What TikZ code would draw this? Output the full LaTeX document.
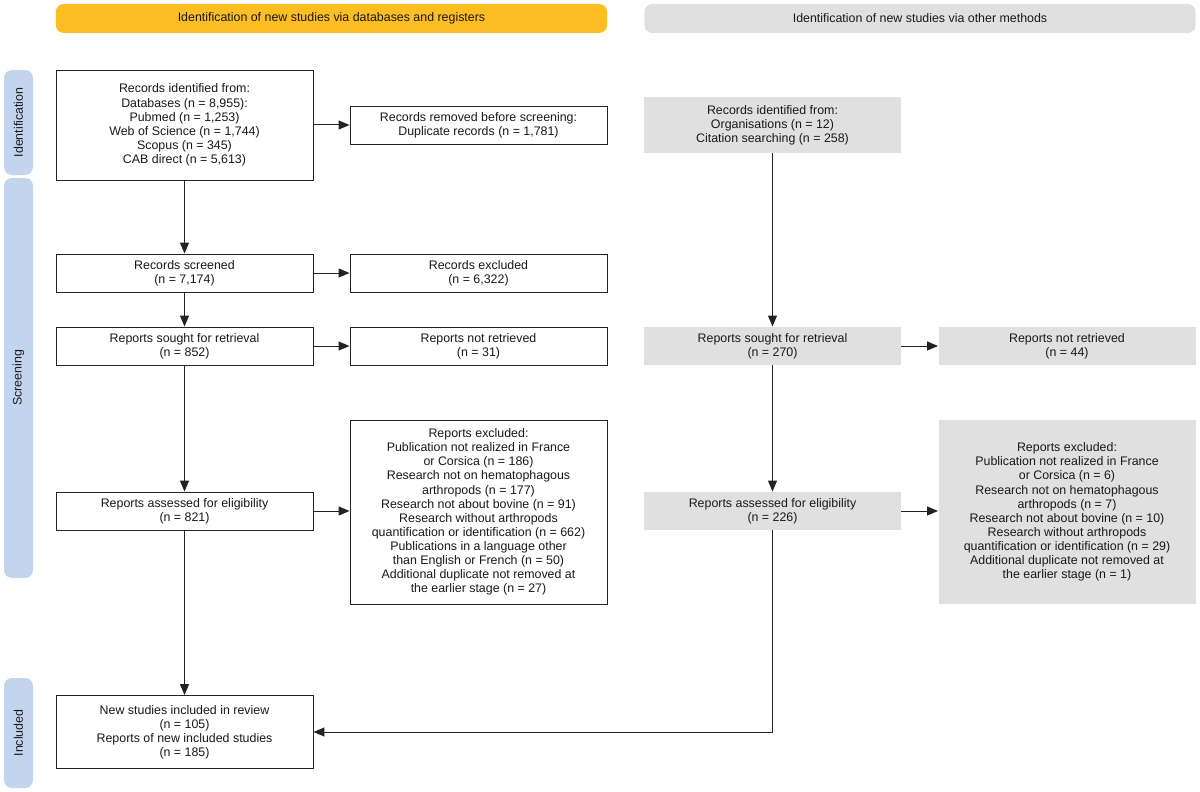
\documentclass[tikz,border=0pt]{standalone}
\usepackage{fontspec}
\setmainfont{Liberation Sans}
\usetikzlibrary{arrows.meta}
\definecolor{prismayellow}{RGB}{253,190,36}
\definecolor{prismagray}{RGB}{224,224,224}
\definecolor{prismablue}{RGB}{194,212,238}
\definecolor{lineclr}{RGB}{35,35,35}
\tikzset{
	txt/.style={font=\fontsize{9.3}{10.6}\selectfont, text=black!90},
	box/.style={txt, draw=lineclr, line width=0.7pt, fill=white, align=center, inner sep=0pt, minimum width=192.75pt, minimum height=28.5pt},
	greybox/.style={box, draw=none, fill=prismagray},
	header/.style={txt, rounded corners=6pt, inner sep=0pt, minimum width=413.5pt, minimum height=21.75pt},
	side/.style={txt, rounded corners=6pt, fill=prismablue, inner sep=0pt, minimum height=21.75pt, rotate=90},
	flow/.style={draw=lineclr, line width=0.75pt, -{Triangle[length=8.25pt,width=6.75pt]}}
}

\begin{document}
\begin{tikzpicture}[x=0.75pt, y=-0.75pt]
		\useasboundingbox (0, 0) rectangle (1200, 792);
		% Headers and side bars:
		\node[header, fill=prismayellow](Hdb) at (331.5, 18.5){Identification of new studies via databases and registers};
		\node[header, fill=prismagray](Hother) at (920, 18.5){Identification of new studies via other methods};
		\node[side, minimum width=78.75pt](Sident) at (18.5, 122.5){Identification};
		\node[side, minimum width=300pt](Sscreen) at (18.5, 378){Screening};
		\node[side, minimum width=82.5pt](Sincl) at (18.5, 733){Included};
		% Databases and registers:
		\node[box, minimum height=82.5pt](DBident) at (184.5, 125){Records identified from:\\Databases (n = 8,955):\\Pubmed (n = 1,253)\\Web of Science (n = 1,744)\\Scopus (n = 345)\\CAB direct (n = 5,613)};
		\node[box](DBremoved) at (478.5, 125){Records removed before screening:\\Duplicate records (n = 1,781)};
		\node[box](DBscreen) at (184.5, 273){Records screened\\(n = 7,174)};
		\node[box](DBexcl) at (478.5, 273){Records excluded\\(n = 6,322)};
		\node[box](DBsought) at (184.5, 346){Reports sought for retrieval\\(n = 852)};
		\node[box](DBnotret) at (478.5, 346){Reports not retrieved\\(n = 31)};
		\node[box](DBassess) at (184.5, 511){Reports assessed for eligibility\\(n = 821)};
		\node[box, minimum height=138pt](DBrepexcl) at (478.5, 512){Reports excluded:\\Publication not realized in France\\or Corsica (n = 186)\\Research not on hematophagous\\arthropods (n = 177)\\Research not about bovine (n = 91)\\Research without arthropods\\quantification or identification (n = 662)\\Publications in a language other\\than English or French (n = 50)\\Additional duplicate not removed at\\the earlier stage (n = 27)};
		\node[box, minimum height=54.75pt](Incl) at (184.5, 732){New studies included in review\\(n = 105)\\Reports of new included studies\\(n = 185)};
		% Other methods:
		\node[greybox, minimum height=42pt](OTident) at (772.5, 125){Records identified from:\\Organisations (n = 12)\\Citation searching (n = 258)};
		\node[greybox](OTsought) at (772.5, 346){Reports sought for retrieval\\(n = 270)};
		\node[greybox](OTnotret) at (1067, 346){Reports not retrieved\\(n = 44)};
		\node[greybox](OTassess) at (772.5, 511){Reports assessed for eligibility\\(n = 226)};
		\node[greybox, minimum height=138pt](OTrepexcl) at (1067, 512){Reports excluded:\\Publication not realized in France\\or Corsica (n = 6)\\Research not on hematophagous\\arthropods (n = 7)\\Research not about bovine (n = 10)\\Research without arthropods\\quantification or identification (n = 29)\\Additional duplicate not removed at\\the earlier stage (n = 1)};
		% Arrows:
		\draw[flow] (DBident) -- (DBremoved);
		\draw[flow] (DBident) -- (DBscreen);
		\draw[flow] (DBscreen) -- (DBexcl);
		\draw[flow] (DBscreen) -- (DBsought);
		\draw[flow] (DBsought) -- (DBnotret);
		\draw[flow] (DBsought) -- (DBassess);
		\draw[flow] (DBassess.east) -- (DBassess.east -| DBrepexcl.west);
		\draw[flow] (DBassess) -- (Incl);
		\draw[flow] (OTident) -- (OTsought);
		\draw[flow] (OTsought) -- (OTnotret);
		\draw[flow] (OTsought) -- (OTassess);
		\draw[flow] (OTassess.east) -- (OTassess.east -| OTrepexcl.west);
		\draw[flow] (OTassess.south) |- (Incl.east);
	\end{tikzpicture}
\end{document}
